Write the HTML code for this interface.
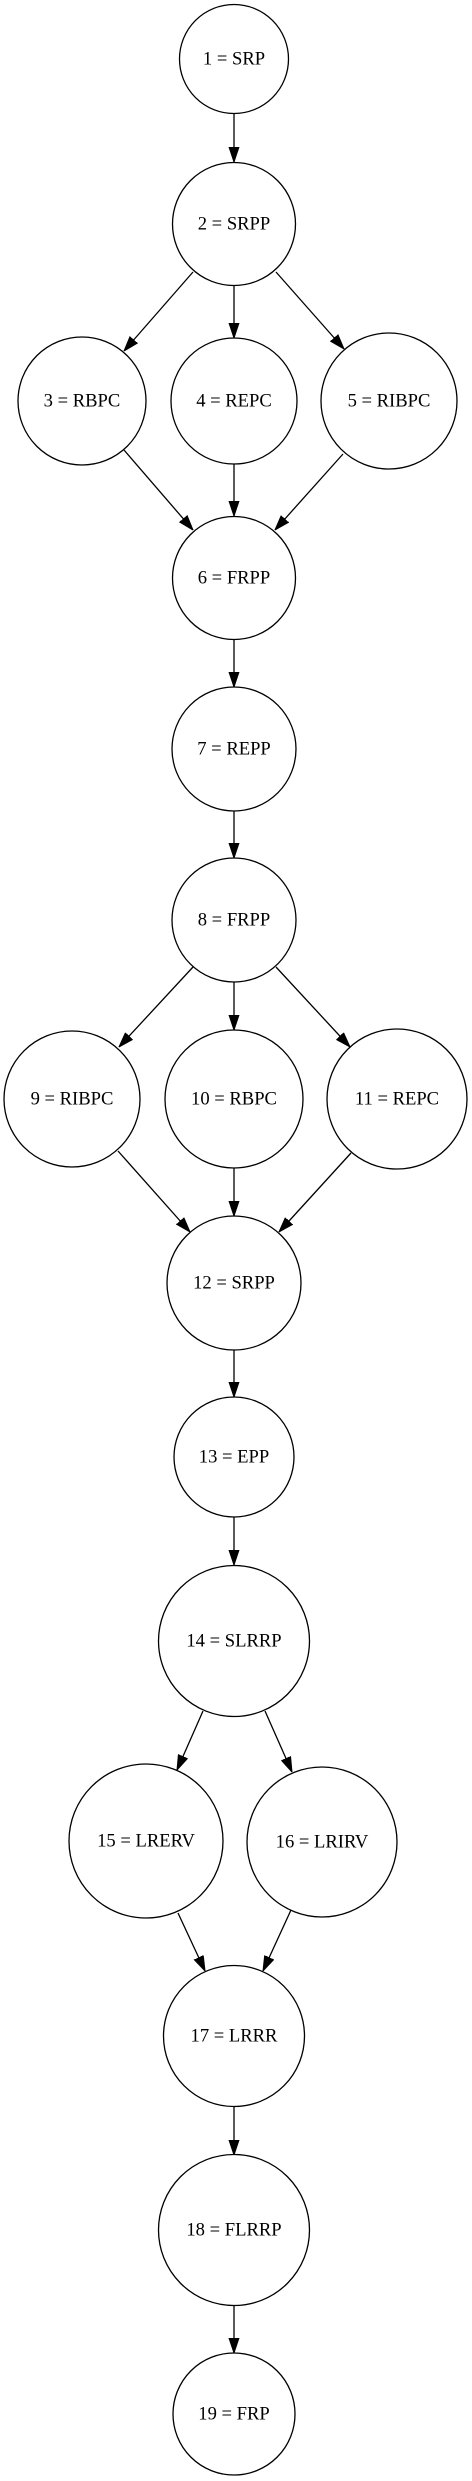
<!DOCTYPE html>
<html><head><meta charset="utf-8"><style>
html,body{margin:0;padding:0;background:#fff;}
svg{display:block;}
text{font-family:"Liberation Serif",serif;font-size:18.6px;fill:#000;text-anchor:middle;dominant-baseline:central;}
circle{fill:none;stroke:#000;stroke-width:1.3;}
line{stroke:#000;stroke-width:1.3;}
</style></head><body>
<svg width="472" height="2481" viewBox="0 0 472 2481" xmlns="http://www.w3.org/2000/svg">
<defs>
<marker id="a" markerUnits="userSpaceOnUse" markerWidth="15" markerHeight="11" refX="15" refY="5.5" orient="auto">
<path d="M0,0.5 L15,5.5 L0,10.5 z" fill="#000" stroke="#000" stroke-width="1"/>
</marker>
</defs>
<!-- nodes -->
<circle cx="234" cy="59" r="54.5"/><text x="234" y="59">1 = SRP</text>
<circle cx="234" cy="224" r="61.5"/><text x="234" y="224">2 = SRPP</text>
<circle cx="82" cy="401" r="64"/><text x="82" y="401">3 = RBPC</text>
<circle cx="234" cy="401" r="63"/><text x="234" y="401">4 = REPC</text>
<circle cx="389" cy="401" r="68"/><text x="389" y="401">5 = RIBPC</text>
<circle cx="234" cy="578" r="61.5"/><text x="234" y="578">6 = FRPP</text>
<circle cx="234" cy="749" r="62"/><text x="234" y="749">7 = REPP</text>
<circle cx="234" cy="920" r="62"/><text x="234" y="920">8 = FRPP</text>
<circle cx="72" cy="1099" r="68"/><text x="72" y="1099">9 = RIBPC</text>
<circle cx="234" cy="1099" r="69"/><text x="234" y="1099">10 = RBPC</text>
<circle cx="397" cy="1099" r="70"/><text x="397" y="1099">11 = REPC</text>
<circle cx="234" cy="1283" r="67"/><text x="234" y="1283">12 = SRPP</text>
<circle cx="234" cy="1457" r="60"/><text x="234" y="1457">13 = EPP</text>
<circle cx="234" cy="1641" r="75.5"/><text x="234" y="1641">14 = SLRRP</text>
<circle cx="146" cy="1841" r="77"/><text x="146" y="1841">15 = LRERV</text>
<circle cx="322" cy="1842" r="75"/><text x="322" y="1842">16 = LRIRV</text>
<circle cx="234" cy="2036" r="70.5"/><text x="234" y="2036">17 = LRRR</text>
<circle cx="234" cy="2230" r="75.5"/><text x="234" y="2230">18 = FLRRP</text>
<circle cx="234" cy="2414" r="61"/><text x="234" y="2414">19 = FRP</text>
<!-- edges -->
<g marker-end="url(#a)">
<line x1="234" y1="114" x2="234" y2="162"/>
<line x1="193" y1="272" x2="124" y2="351"/>
<line x1="234" y1="286" x2="234" y2="338"/>
<line x1="276" y1="272" x2="344" y2="349"/>
<line x1="124" y1="450" x2="193" y2="530"/>
<line x1="234" y1="464" x2="234" y2="516"/>
<line x1="343" y1="454" x2="275" y2="530"/>
<line x1="234" y1="640" x2="234" y2="687"/>
<line x1="234" y1="811" x2="234" y2="858"/>
<line x1="193" y1="967" x2="119" y2="1047"/>
<line x1="234" y1="982" x2="234" y2="1030"/>
<line x1="276" y1="967" x2="350" y2="1047"/>
<line x1="118" y1="1151" x2="190" y2="1232"/>
<line x1="234" y1="1168" x2="234" y2="1216"/>
<line x1="351" y1="1153" x2="279" y2="1232"/>
<line x1="234" y1="1350" x2="234" y2="1397"/>
<line x1="234" y1="1517" x2="234" y2="1565"/>
<line x1="203" y1="1711" x2="177" y2="1770"/>
<line x1="265" y1="1711" x2="292" y2="1772"/>
<line x1="178" y1="1913" x2="205" y2="1971"/>
<line x1="291" y1="1910" x2="263" y2="1971"/>
<line x1="234" y1="2107" x2="234" y2="2155"/>
<line x1="234" y1="2305" x2="234" y2="2353"/>
</g>
</svg>
</body></html>
